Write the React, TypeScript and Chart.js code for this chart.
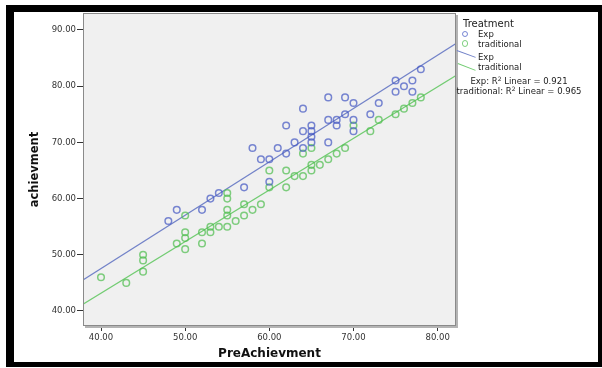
import React, { useEffect, useRef } from "react";
import { Chart, registerables } from "chart.js";
Chart.register(...registerables);

// Exp group (PreAchievment, achievment)
const expX = [48, 49, 52, 53, 54, 57, 59, 60, 60, 58, 61, 62, 63, 64, 64, 62, 64, 65, 65, 65, 65, 67, 67, 68, 68, 67, 69, 70, 69, 70, 70, 72, 73, 75, 75, 76, 77, 77, 78];
const expY = [56, 58, 58, 60, 61, 62, 67, 67, 63, 69, 69, 68, 70, 72, 69, 73, 76, 73, 72, 71, 70, 78, 74, 74, 73, 70, 78, 77, 75, 74, 72, 75, 77, 81, 79, 80, 81, 79, 83];

// traditional group
const tradX = [40, 43, 45, 45, 45, 49, 50, 50, 50, 50, 52, 52, 53, 53, 54, 55, 55, 55, 55, 55, 56, 57, 57, 58, 59, 60, 60, 62, 62, 63, 64, 64, 65, 65, 65, 66, 67, 68, 69, 70, 72, 73, 75, 76, 77, 78];
const tradY = [46, 45, 50, 49, 47, 52, 57, 54, 53, 51, 54, 52, 55, 54, 55, 61, 60, 58, 57, 55, 56, 59, 57, 58, 59, 65, 62, 65, 62, 64, 64, 68, 69, 66, 65, 66, 67, 68, 69, 73, 72, 74, 75, 76, 77, 78];

// fit lines (end points at axis limits)
const expFitX = [37.86, 82.18];
const expFitY = [45.5, 87.6];
const tradFitX = [37.86, 82.18];
const tradFitY = [41.2, 81.9];

const xTicks = [40, 50, 60, 70, 80];
const yTicks = [40, 50, 60, 70, 80, 90];
const xMin = 37.86, xMax = 82.18, yMin = 37.33, yMax = 93.02;

const FONT = "'DejaVu Sans', sans-serif";
const BLUE_PT = "rgba(70,90,195,0.72)";
const GREEN_PT = "rgba(80,190,80,0.72)";
const BLUE_LN = "#7282c8";
const GREEN_LN = "#72cc72";

const toPts = (xs: number[], ys: number[]) => xs.map((x, i) => ({ x, y: ys[i] }));

const bgPlugin = {
  id: "bgPlot",
  beforeDraw(chart: any) {
    const { ctx, chartArea: a } = chart;
    ctx.save();
    ctx.fillStyle = "#ffffff";
    ctx.fillRect(0, 0, chart.width, chart.height);
    ctx.fillStyle = "#f0f0f0";
    ctx.fillRect(a.left, a.top, a.right - a.left, a.bottom - a.top);
    ctx.restore();
  },
  afterDraw(chart: any) {
    const { ctx, chartArea: a } = chart;
    const w = a.right - a.left, h = a.bottom - a.top;
    ctx.save();
    ctx.fillStyle = "#b4b4b4";
    ctx.fillRect(a.right, a.top + 2, 2, h);
    ctx.fillRect(a.left + 2, a.bottom, w, 2);
    ctx.strokeStyle = "#8a8a8a";
    ctx.lineWidth = 1;
    ctx.strokeRect(a.left + 0.5, a.top + 0.5, w - 1, h - 1);
    ctx.restore();
  },
};

export default function App() {
  const ref = useRef<HTMLCanvasElement>(null);
  useEffect(() => {
    if (!ref.current) return;
    const chart = new Chart(ref.current, {
      type: "scatter",
      data: {
        datasets: [
          {
            label: "Exp",
            data: toPts(expX, expY),
            pointStyle: "circle",
            pointRadius: 3.3,
            pointBorderWidth: 1.5,
            borderColor: BLUE_PT,
            backgroundColor: "transparent",
          },
          {
            label: "traditional",
            data: toPts(tradX, tradY),
            pointStyle: "circle",
            pointRadius: 3.3,
            pointBorderWidth: 1.5,
            borderColor: GREEN_PT,
            backgroundColor: "transparent",
          },
          {
            type: "line",
            label: "Exp fit",
            data: toPts(expFitX, expFitY),
            borderColor: BLUE_LN,
            borderWidth: 1.2,
            pointRadius: 0,
            fill: false,
          } as any,
          {
            type: "line",
            label: "traditional fit",
            data: toPts(tradFitX, tradFitY),
            borderColor: GREEN_LN,
            borderWidth: 1.2,
            pointRadius: 0,
            fill: false,
          } as any,
        ],
      },
      options: {
        animation: false,
        responsive: false,
        devicePixelRatio: 1,
        layout: { padding: { left: 0, top: 13, right: 146, bottom: 0 } },
        plugins: { legend: { display: false }, tooltip: { enabled: false } },
        scales: {
          x: {
            type: "linear",
            min: xMin,
            max: xMax,
            afterBuildTicks: (s: any) => {
              s.ticks = xTicks.map((v) => ({ value: v }));
            },
            afterFit: (s: any) => {
              s.height = 42;
            },
            border: { display: false },
            grid: { drawOnChartArea: false, drawTicks: true, tickLength: 5, tickColor: "#333" },
            ticks: {
              padding: 2,
              color: "#333",
              font: { family: FONT, size: 8.5 },
              callback: (v: any) => Number(v).toFixed(2),
              maxRotation: 0,
            },
            title: {
              display: true,
              text: "PreAchievment",
              color: "#111",
              font: { family: FONT, size: 12, weight: "bold" },
              padding: { top: 0, bottom: 7 },
            },
          },
          y: {
            type: "linear",
            min: yMin,
            max: yMax,
            afterBuildTicks: (s: any) => {
              s.ticks = yTicks.map((v) => ({ value: v }));
            },
            afterFit: (s: any) => {
              s.width = 83;
            },
            border: { display: false },
            grid: { drawOnChartArea: false, drawTicks: true, tickLength: 6, tickColor: "#333" },
            ticks: {
              padding: 1,
              color: "#333",
              font: { family: FONT, size: 8.5 },
              callback: (v: any) => Number(v).toFixed(2),
            },
            title: {
              display: true,
              text: "achievment",
              color: "#111",
              font: { family: FONT, size: 11.5, weight: "bold" },
              padding: { top: 28, bottom: 0 },
            },
          },
        },
      },
      plugins: [bgPlugin],
    });
    return () => chart.destroy();
  }, []);

  const txt: React.CSSProperties = {
    position: "absolute",
    fontFamily: FONT,
    fontSize: 8.5,
    color: "#222",
    whiteSpace: "nowrap",
    lineHeight: "10px",
  };
  const circle = (cx: number, cy: number, color: string): React.CSSProperties => ({
    position: "absolute",
    left: cx - 3.5,
    top: cy - 3.5,
    width: 4.5,
    height: 4.5,
    borderRadius: "50%",
    border: `1.5px solid ${color}`,
  });
  const seg = (x1: number, y1: number, x2: number, y2: number, color: string): React.CSSProperties => {
    const len = Math.hypot(x2 - x1, y2 - y1);
    const ang = (Math.atan2(y2 - y1, x2 - x1) * 180) / Math.PI;
    return {
      position: "absolute",
      left: x1,
      top: y1,
      width: len,
      height: 1.2,
      background: color,
      transformOrigin: "0 0",
      transform: `rotate(${ang}deg)`,
    };
  };

  return (
    <div style={{ position: "fixed", left: 0, top: 0, width: 602, height: 368, background: "#fff", overflow: "hidden" }}>
      <canvas ref={ref} width={602} height={368} style={{ position: "absolute", left: 0, top: 0, width: 602, height: 368 }} />
      <div style={{ ...txt, left: 463, top: 18, fontSize: 10, lineHeight: "12px" }}>Treatment</div>
      <div style={circle(465, 34, BLUE_PT)} />
      <div style={{ ...txt, left: 478, top: 29 }}>Exp</div>
      <div style={circle(465, 43.5, GREEN_PT)} />
      <div style={{ ...txt, left: 478, top: 38.5 }}>traditional</div>
      <div style={seg(457, 50, 476, 57, BLUE_LN)} />
      <div style={{ ...txt, left: 478, top: 51.5 }}>Exp</div>
      <div style={seg(458, 63, 476, 70, GREEN_LN)} />
      <div style={{ ...txt, left: 478, top: 62 }}>traditional</div>
      <div style={{ ...txt, left: 519, top: 76, transform: "translateX(-50%)" }}>
        Exp: R<sup style={{ fontSize: 6, verticalAlign: "3px", lineHeight: 0 }}>2</sup> Linear = 0.921
      </div>
      <div style={{ ...txt, left: 519, top: 86, transform: "translateX(-50%)" }}>
        traditional: R<sup style={{ fontSize: 6, verticalAlign: "3px", lineHeight: 0 }}>2</sup> Linear = 0.965
      </div>
      <div
        style={{
          position: "absolute",
          left: 6,
          top: 5,
          width: 596,
          height: 362,
          boxSizing: "border-box",
          borderStyle: "solid",
          borderColor: "#000",
          borderWidth: "7px 4px 5px 8px",
          pointerEvents: "none",
        }}
      />
    </div>
  );
}
